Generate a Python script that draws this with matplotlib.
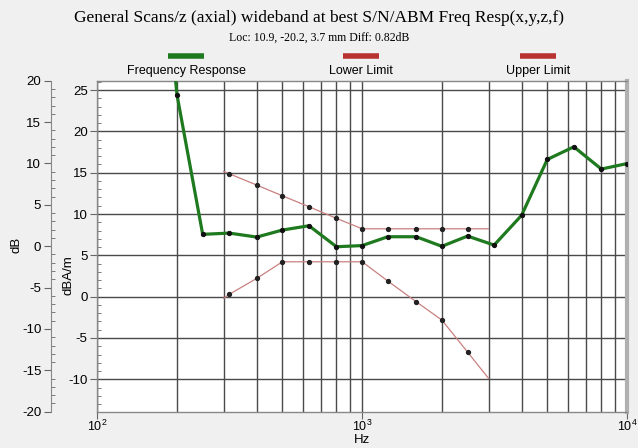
import matplotlib
matplotlib.use("Agg")
import matplotlib.pyplot as plt
from matplotlib.lines import Line2D
from matplotlib.ticker import MultipleLocator, LogLocator
import numpy as np

# Frequency response (dBA/m) at 1/3-octave frequencies
resp_freq = [160, 200, 250, 315, 400, 500, 630, 800, 1000, 1250, 1600, 2000,
             2500, 3150, 4000, 5000, 6300, 8000, 10000]
resp_vals = [55.0, 24.4, 7.54, 7.69, 7.21, 8.06, 8.58, 6.04, 6.18, 7.25, 7.25,
             6.09, 7.33, 6.24, 9.84, 16.6, 18.13, 15.44, 16.1]

# Limit curves (first and last points carry no marker)
lim_freq = [300, 315, 400, 500, 630, 800, 1000, 1250, 1600, 2000, 2500, 3000]
upper_vals = [15.16, 14.87, 13.5, 12.2, 10.88, 9.47, 8.21, 8.21, 8.21, 8.21, 8.21, 8.21]
lower_vals = [-0.2, 0.28, 2.21, 4.22, 4.22, 4.22, 4.22, 1.89, -0.62, -2.83, -6.7, -9.88]

legend_names = ["Frequency Response", "Lower Limit", "Upper Limit"]

GREEN = "#1f7a1f"
RED = "#b83232"
LIMIT_LINE = "#c98080"
BG = "#f0f0f0"
GRID = "#4a4a4a"

plt.rcParams["font.family"] = ["Liberation Sans", "DejaVu Sans"]
plt.rcParams["axes.unicode_minus"] = False

W, H = 638, 448
fig = plt.figure(figsize=(W / 100, H / 100), dpi=100, facecolor=BG)

def fx(px):
    return px / W

def fy(py):
    return 1 - py / H

left, right, top, bottom = 97.3, 627.0, 80.7, 411.7
ax = fig.add_axes([fx(left), fy(bottom), fx(right - left), (bottom - top) / H])
ax.set_facecolor("white")

ax.set_xscale("log")
ax.set_xlim(100, 10000)
ax.set_ylim(-13.92, 26.13)

# grid: every log tick vertically, major y ticks horizontally
ax.xaxis.set_major_locator(LogLocator(base=10, numticks=5))
ax.xaxis.set_minor_locator(LogLocator(base=10, subs=np.arange(2, 10), numticks=20))
ax.grid(True, which="major", axis="x", color=GRID, lw=1.0)
ax.grid(True, which="minor", axis="x", color=GRID, lw=1.0)
ax.yaxis.set_major_locator(MultipleLocator(5))
ax.yaxis.set_minor_locator(MultipleLocator(1))
ax.grid(True, which="major", axis="y", color=GRID, lw=1.0)

ax.tick_params(axis="x", which="major", direction="out", length=5, color="#666666",
               labelsize=9, pad=0)
ax.tick_params(axis="x", which="minor", length=0)
ax.tick_params(axis="y", which="major", direction="out", length=5, color="#666666",
               labelsize=9.5, pad=2)
ax.tick_params(axis="y", which="minor", direction="in", length=3, color="#666666")
for s in ax.spines.values():
    s.set_color("#888888")
    s.set_linewidth(1.0)
ax.spines["right"].set_color("#b0b0b0")
ax.spines["right"].set_linewidth(3)

# limit curves
ax.plot(lim_freq, upper_vals, color=LIMIT_LINE, lw=0.9, zorder=3,
        marker="o", ms=2.8, mfc="#222222", mec="#222222",
        markevery=list(range(1, len(lim_freq) - 1)))
ax.plot(lim_freq, lower_vals, color=LIMIT_LINE, lw=0.9, zorder=3,
        marker="o", ms=2.8, mfc="#222222", mec="#222222",
        markevery=list(range(1, len(lim_freq) - 1)))

# frequency response
ax.plot(resp_freq, resp_vals, color=GREEN, lw=2.3, zorder=4,
        marker="o", ms=2.8, mfc="#111111", mec="#111111")

ax.set_xlabel("Hz", fontsize=9.5)
ax.xaxis.set_label_coords(0.5, -0.067)

# secondary dB scale on the far left
ax2 = fig.add_axes([fx(51), fy(bottom), 0.0005, (bottom - top) / H])
ax2.set_ylim(-20, 20)
ax2.patch.set_alpha(0)
for k in ["top", "right", "bottom"]:
    ax2.spines[k].set_visible(False)
ax2.spines["left"].set_color("#888888")
ax2.set_xticks([])
ax2.yaxis.set_major_locator(MultipleLocator(5))
ax2.yaxis.set_minor_locator(MultipleLocator(1))
ax2.tick_params(axis="y", which="major", direction="out", length=5, color="#666666",
                labelsize=9.5, pad=2)
ax2.tick_params(axis="y", which="minor", direction="in", length=3, color="#666666")

fig.text(fx(17), fy(245), "dB", rotation=90, ha="center", va="center", fontsize=9.5)
fig.text(fx(68), fy(275), "dBA/m", rotation=90, ha="center", va="center", fontsize=9.5)

# titles
fig.text(0.5, fy(18), "General Scans/z (axial) wideband at best S/N/ABM Freq Resp(x,y,z,f)",
         ha="center", va="center", fontsize=12.5, family=["Liberation Serif", "DejaVu Serif"])
fig.text(0.5, fy(38), "Loc: 10.9, -20.2, 3.7 mm Diff: 0.82dB",
         ha="center", va="center", fontsize=8.5, family=["Liberation Serif", "DejaVu Serif"])

# legend above the plot
legend_cx = [186, 361, 538]
legend_col = [GREEN, RED, RED]
for cx, name, col in zip(legend_cx, legend_names, legend_col):
    fig.add_artist(Line2D([fx(cx - 18), fx(cx + 18)], [fy(56), fy(56)],
                          color=col, lw=4, solid_capstyle="butt"))
    fig.text(fx(cx), fy(71), name, ha="center", va="center", fontsize=9)

fig.savefig("out.png", dpi=100, facecolor=BG)
